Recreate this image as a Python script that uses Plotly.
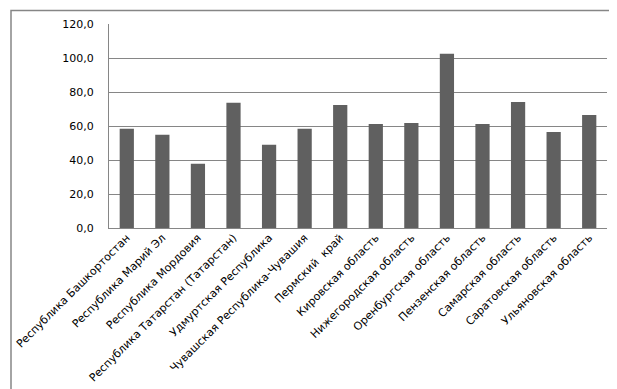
import plotly.graph_objects as go

regions = [
    "Республика Башкортостан",
    "Республика Марий Эл",
    "Республика Мордовия",
    "Республика Татарстан (Татарстан)",
    "Удмуртская Республика",
    "Чувашская Республика-Чувашия",
    "Пермский  край",
    "Кировская область",
    "Нижегородская область",
    "Оренбургская область",
    "Пензенская область",
    "Самарская область",
    "Саратовская область",
    "Ульяновская область",
]
values = [58.4, 54.9, 37.8, 73.7, 49.0, 58.4, 72.4, 61.2, 61.8, 102.5, 61.2, 74.1, 56.5, 66.5]
y_ticks = [0, 20, 40, 60, 80, 100, 120]

L, R, T, B = 101, 18, 16, 169
W, H = 617, 389
pw, ph = W - L - R, H - T - B

fig = go.Figure(go.Bar(x=list(range(len(regions))), y=values, marker=dict(color="#606060", line=dict(width=0))))

fig.update_layout(
    width=W, height=H,
    margin=dict(l=L, r=R, t=T, b=B, pad=0, autoexpand=False),
    paper_bgcolor="white", plot_bgcolor="white",
    separators=", ",
    bargap=0.6,
    showlegend=False,
    font=dict(family="DejaVu Sans", size=10, color="black"),
    xaxis=dict(
        tickmode="array", tickvals=list(range(len(regions))), ticktext=regions,
        tickangle=-45, range=[-0.5, len(regions) - 0.5], automargin=False,
        showgrid=False, showline=True, linecolor="#868686", linewidth=1,
        ticks="", tickfont=dict(size=11), ticklabelstandoff=-2,
    ),
    yaxis=dict(
        range=[0, 120], tickvals=y_ticks, tickformat=".1f", automargin=False,
        showgrid=True, gridcolor="#868686", gridwidth=1,
        showline=True, linecolor="#868686", linewidth=1,
        ticks="", ticklabelstandoff=12, zeroline=False,
        tickfont=dict(family="DejaVu Sans", size=11),
    ),
    shapes=[dict(
        type="rect", xref="paper", yref="paper",
        x0=(3 - L) / pw, x1=(612 - L) / pw,
        y0=(H - B - 384) / ph, y1=(H - B - 2.5) / ph,
        line=dict(color="#868686", width=1.5), fillcolor="rgba(0,0,0,0)", layer="below",
    )],
)

fig.write_html("out.html")
